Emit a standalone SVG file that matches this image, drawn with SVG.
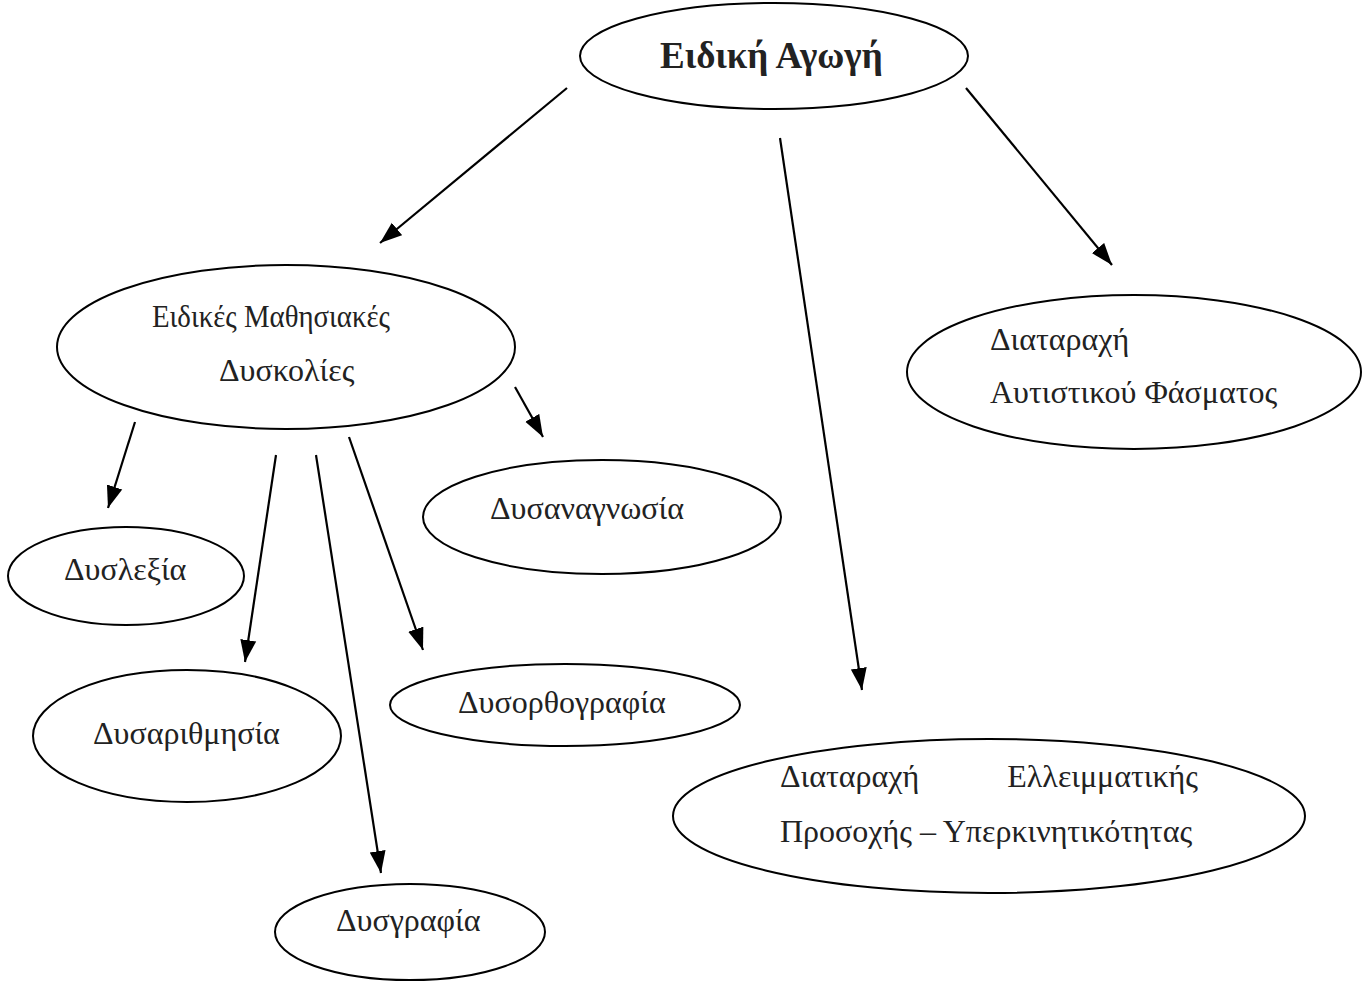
<svg xmlns="http://www.w3.org/2000/svg" width="1365" height="981" viewBox="0 0 1365 981">
<defs>
<style>
.n ellipse{fill:#fff;stroke:#000;stroke-width:2}
.t{font-family:"Liberation Serif","Times New Roman",serif;font-size:32px;fill:#222}
.b{font-weight:bold;font-size:37px}
.c line{stroke:#000;stroke-width:2.2;marker-end:url(#ah)}
</style>
<marker id="ah" markerUnits="userSpaceOnUse" markerWidth="24" markerHeight="18" refX="22" refY="8" orient="auto" viewBox="0 0 24 16">
<path d="M0,0 L22,8 L0,16 z" fill="#000"/>
</marker>
</defs>
<rect width="1365" height="981" fill="#fff"/>
<g id="n-eidiki" class="n">
<ellipse cx="774" cy="56" rx="194" ry="53"/>
<text class="t b" x="660" y="68">Ειδική Αγωγή</text>
</g>
<g id="n-emd" class="n">
<ellipse cx="286" cy="347" rx="229" ry="82"/>
<text class="t" x="152" y="327" textLength="238" lengthAdjust="spacingAndGlyphs">Ειδικές Μαθησιακές</text>
<text class="t" x="219" y="381">Δυσκολίες</text>
</g>
<g id="n-daf" class="n">
<ellipse cx="1134" cy="372" rx="227" ry="77"/>
<text class="t" x="990" y="350">Διαταραχή</text>
<text class="t" x="990" y="403">Αυτιστικού Φάσματος</text>
</g>
<g id="n-dysanagnosia" class="n">
<ellipse cx="602" cy="517" rx="179" ry="57"/>
<text class="t" x="490" y="519">Δυσαναγνωσία</text>
</g>
<g id="n-dyslexia" class="n">
<ellipse cx="126" cy="576" rx="118" ry="49"/>
<text class="t" x="64" y="580">Δυσλεξία</text>
</g>
<g id="n-dysarithmisia" class="n">
<ellipse cx="187" cy="736" rx="154" ry="66"/>
<text class="t" x="93" y="744">Δυσαριθμησία</text>
</g>
<g id="n-dysorthografia" class="n">
<ellipse cx="565" cy="705" rx="175" ry="41"/>
<text class="t" x="458" y="713">Δυσορθογραφία</text>
</g>
<g id="n-dysgrafia" class="n">
<ellipse cx="410" cy="932" rx="135" ry="48"/>
<text class="t" x="336" y="931">Δυσγραφία</text>
</g>
<g id="n-adhd" class="n">
<ellipse cx="989" cy="816" rx="316" ry="77"/>
<text class="t" x="780" y="787">Διαταραχή</text>
<text class="t" x="1198" y="787" text-anchor="end">Ελλειμματικής</text>
<text class="t" x="780" y="842">Προσοχής – Υπερκινητικότητας</text>
</g>
<g id="connectors" class="c">
<line x1="567" y1="88" x2="380" y2="243"/>
<line x1="780" y1="138" x2="862" y2="690"/>
<line x1="966" y1="88" x2="1112" y2="265"/>
<line x1="135" y1="422" x2="108" y2="508"/>
<line x1="276" y1="455" x2="245" y2="662"/>
<line x1="316" y1="455" x2="381" y2="873"/>
<line x1="349" y1="437" x2="423" y2="650"/>
<line x1="515" y1="387" x2="543" y2="437"/>
</g>
</svg>
